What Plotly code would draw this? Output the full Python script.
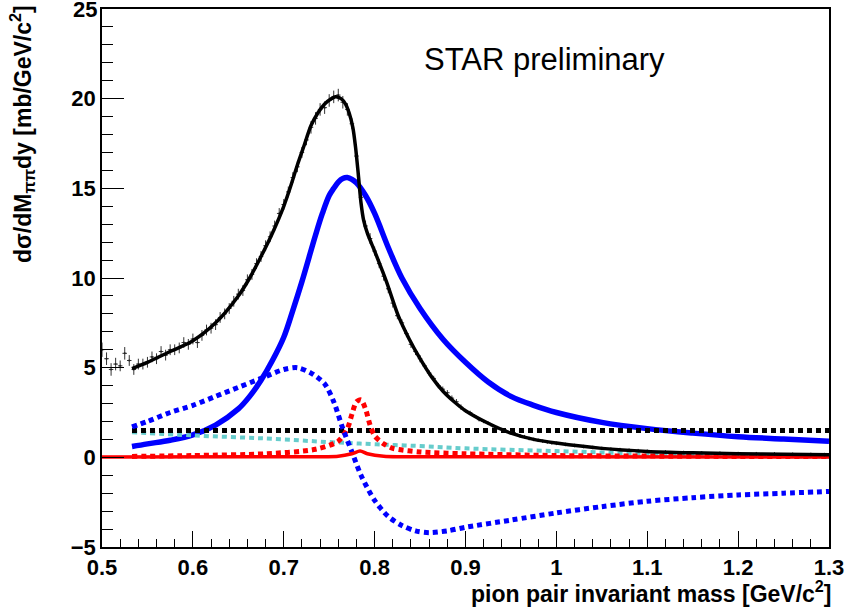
import plotly.graph_objects as go

# ---------------- data ----------------
# measured spectrum (bin centres, values, errors)
data_x = [0.500, 0.505, 0.510, 0.515, 0.520, 0.525, 0.530, 0.535, 0.540, 0.545,
          0.550, 0.555, 0.560, 0.565, 0.570, 0.575, 0.580, 0.585, 0.590, 0.595,
          0.600, 0.605, 0.610, 0.615, 0.620, 0.625, 0.630, 0.635, 0.640, 0.645,
          0.650, 0.655, 0.660, 0.665, 0.670, 0.675, 0.680, 0.685, 0.690, 0.695,
          0.700, 0.705, 0.710, 0.715, 0.720, 0.725, 0.730, 0.735, 0.740, 0.745,
          0.750, 0.755, 0.760, 0.765, 0.770, 0.775, 0.780, 0.785, 0.790, 0.795,
          0.800, 0.805, 0.810, 0.815, 0.820, 0.825, 0.830, 0.835, 0.840, 0.845,
          0.850, 0.855, 0.860, 0.865, 0.870, 0.875, 0.880, 0.885, 0.890, 0.895,
          0.900, 0.905, 0.910, 0.915, 0.920, 0.925, 0.930, 0.935, 0.940, 0.945,
          0.950, 0.955, 0.960, 0.965, 0.970, 0.975, 0.980, 0.985, 0.990, 0.995,
          1.000, 1.010, 1.020, 1.030, 1.040, 1.050, 1.060, 1.070, 1.080, 1.090,
          1.100, 1.120, 1.140, 1.160, 1.180, 1.200, 1.220, 1.240, 1.260, 1.280, 1.295]
data_y = [6.0, 5.5, 4.9, 5.2, 5.1, 5.8, 5.4, 4.9, 5.2, 5.2,
          5.3, 5.6, 5.5, 5.9, 5.7, 6.0, 6.0, 6.1, 6.4, 6.3,
          6.6, 6.4, 6.8, 7.1, 7.2, 7.4, 7.8, 8.0, 8.3, 8.7,
          9.1, 9.3, 9.9, 10.2, 10.8, 11.2, 11.8, 12.3, 12.9, 13.6,
          14.1, 14.8, 15.6, 16.2, 17.0, 17.7, 18.4, 18.9, 19.4, 19.5,
          19.9, 20.1, 20.2, 19.8, 19.4, 18.6, 16.8, 14.5, 12.9, 12.2,
          11.5, 10.8, 10.1, 9.4, 8.6, 7.9, 7.5, 6.9, 6.3, 5.9,
          5.5, 5.1, 4.7, 4.4, 4.0, 3.8, 3.6, 3.3, 3.1, 2.8,
          2.6, 2.5, 2.3, 2.1, 2.0, 1.9, 1.75, 1.65, 1.55, 1.45,
          1.35, 1.3, 1.2, 1.15, 1.05, 1.0, 0.95, 0.9, 0.85, 0.8,
          0.78, 0.72, 0.66, 0.6, 0.55, 0.5, 0.46, 0.43, 0.4, 0.37,
          0.34, 0.3, 0.27, 0.25, 0.23, 0.21, 0.2, 0.19, 0.17, 0.16, 0.15]
data_err = [0.4, 0.35, 0.35, 0.35, 0.3, 0.35, 0.3, 0.3, 0.3, 0.3,
            0.3, 0.3, 0.3, 0.3, 0.3, 0.3, 0.3, 0.3, 0.3, 0.3,
            0.3, 0.3, 0.3, 0.3, 0.3, 0.3, 0.3, 0.3, 0.3, 0.3,
            0.3, 0.3, 0.3, 0.3, 0.3, 0.3, 0.3, 0.3, 0.3, 0.3,
            0.3, 0.3, 0.3, 0.3, 0.3, 0.3, 0.35, 0.35, 0.35, 0.35,
            0.35, 0.35, 0.35, 0.35, 0.35, 0.3, 0.3, 0.3, 0.3, 0.3,
            0.25, 0.25, 0.25, 0.25, 0.25, 0.2, 0.2, 0.2, 0.2, 0.2,
            0.2, 0.15, 0.15, 0.15, 0.15, 0.15, 0.15, 0.15, 0.15, 0.15,
            0.1, 0.1, 0.1, 0.1, 0.1, 0.1, 0.1, 0.1, 0.1, 0.1,
            0.1, 0.1, 0.1, 0.1, 0.1, 0.1, 0.1, 0.1, 0.1, 0.1,
            0.1, 0.1, 0.1, 0.1, 0.1, 0.1, 0.1, 0.1, 0.1, 0.1,
            0.1, 0.1, 0.1, 0.1, 0.1, 0.1, 0.1, 0.1, 0.1, 0.1, 0.1]

# total fit
total_x = [0.533, 0.55, 0.575, 0.6, 0.625, 0.65, 0.6625, 0.675, 0.6875, 0.7, 0.7075,
           0.715, 0.7225, 0.73, 0.7375, 0.745, 0.751, 0.757, 0.763, 0.768, 0.772,
           0.776, 0.779, 0.782, 0.785, 0.788, 0.792, 0.8, 0.813, 0.826, 0.838,
           0.85, 0.8625, 0.875, 0.8875, 0.9, 0.925, 0.95, 0.975, 1.0, 1.05, 1.1,
           1.15, 1.2, 1.25, 1.3]
total_y = [4.95, 5.3, 5.9, 6.5, 7.5, 9.0, 10.0, 11.2, 12.5, 14.0, 15.1,
           16.3, 17.4, 18.5, 19.2, 19.7, 19.95, 20.1, 20.0, 19.7, 19.2,
           18.4, 17.3, 15.8, 14.2, 13.2, 12.5, 11.5, 9.8, 7.9, 6.6,
           5.5, 4.5, 3.7, 3.1, 2.6, 1.9, 1.35, 1.0, 0.8, 0.5, 0.33,
           0.25, 0.2, 0.17, 0.15]

# rho Breit-Wigner
rho_x = [0.533, 0.55, 0.575, 0.6, 0.625, 0.65, 0.6625, 0.675, 0.6875, 0.7, 0.71, 0.72,
         0.735, 0.7425, 0.75, 0.755, 0.76, 0.765, 0.77, 0.775, 0.78, 0.79, 0.8,
         0.815, 0.83, 0.85, 0.875, 0.9, 0.925, 0.95, 0.975, 1.0,
         1.05, 1.1, 1.15, 1.2, 1.25, 1.3]
rho_y = [0.6, 0.75, 0.95, 1.25, 1.8, 2.7, 3.4, 4.3, 5.4, 6.7, 8.2, 9.8,
         12.4, 13.6, 14.6, 15.0, 15.35, 15.55, 15.6, 15.5, 15.3, 14.6, 13.6,
         11.7, 10.0, 8.3, 6.6, 5.3, 4.2, 3.4, 2.9, 2.5,
         1.95, 1.6, 1.35, 1.15, 1.02, 0.9]

# rho-nonresonant interference
interf_x = [0.533, 0.55, 0.575, 0.6, 0.625, 0.65, 0.675, 0.7, 0.715, 0.73, 0.745,
            0.755, 0.765, 0.775, 0.785, 0.8, 0.815, 0.83, 0.845, 0.86, 0.88, 0.9,
            0.95, 1.0, 1.05, 1.1, 1.15, 1.2, 1.25, 1.3]
interf_y = [1.7, 2.0, 2.5, 2.9, 3.4, 3.9, 4.4, 4.9, 5.0, 4.7, 4.1,
            3.1, 1.6, 0.3, -1.0, -2.4, -3.3, -3.8, -4.1, -4.2, -4.1, -3.9,
            -3.5, -3.1, -2.75, -2.45, -2.25, -2.1, -2.0, -1.9]

# non-resonant constant
nonres_x = [0.533, 1.3]
nonres_y = [1.5, 1.5]

# second background component
bkg_x = [0.533, 0.6, 0.68, 0.75, 0.8, 0.85, 0.9, 1.0, 1.1, 1.2, 1.3]
bkg_y = [1.4, 1.22, 1.05, 0.85, 0.73, 0.63, 0.5, 0.35, 0.2, 0.1, 0.03]

# omega
omega_x = [0.533, 0.6, 0.68, 0.735, 0.76, 0.77, 0.775, 0.78, 0.785, 0.79, 0.795,
           0.8, 0.81, 0.82, 0.85, 0.9, 1.0, 1.1, 1.2, 1.3]
omega_y = [0.05, 0.1, 0.2, 0.45, 0.9, 1.6, 2.4, 3.1, 3.2, 2.7, 1.8,
           1.2, 0.75, 0.5, 0.3, 0.2, 0.1, 0.07, 0.05, 0.04]

# rho-omega interference
rhoomega_x = [0.5, 0.7, 0.76, 0.775, 0.784, 0.792, 0.81, 0.9, 1.3]
rhoomega_y = [0.02, 0.03, 0.06, 0.2, 0.35, 0.2, 0.06, 0.03, 0.02]

x_tickvals = [0.5, 0.6, 0.7, 0.8, 0.9, 1.0, 1.1, 1.2, 1.3]
x_ticktext = ["0.5", "0.6", "0.7", "0.8", "0.9", "1", "1.1", "1.2", "1.3"]
y_tickvals = [-5, 0, 5, 10, 15, 20]
y_ticktext = ["\u22125", "0", "5", "10", "15", "20"]
y_top_value = 25
y_top_label = "25"

# ---------------- figure ----------------
DOT = "5px,4px"
fig = go.Figure()

fig.add_trace(go.Scatter(x=rho_x, y=rho_y, mode="lines", line=dict(color="#0000ff", width=5.5, shape="spline", smoothing=1.0)))
fig.add_trace(go.Scatter(x=bkg_x, y=bkg_y, mode="lines", line=dict(color="#66cccc", width=4, dash=DOT, shape="spline")))
fig.add_trace(go.Scatter(x=nonres_x, y=nonres_y, mode="lines", line=dict(color="#000000", width=5, dash=DOT)))
fig.add_trace(go.Scatter(x=omega_x, y=omega_y, mode="lines", line=dict(color="#ff0000", width=5, dash=DOT, shape="spline", smoothing=0.8)))
fig.add_trace(go.Scatter(x=interf_x, y=interf_y, mode="lines", line=dict(color="#0000ff", width=5, dash=DOT, shape="spline", smoothing=0.8)))
fig.add_trace(go.Scatter(x=rhoomega_x, y=rhoomega_y, mode="lines", line=dict(color="#ff0000", width=3.5, shape="spline", smoothing=0.8)))
fig.add_trace(go.Scatter(
    x=data_x, y=data_y, mode="markers",
    marker=dict(color="#222222", size=2),
    error_y=dict(type="data", array=data_err, thickness=1, width=0, color="#333333"),
    error_x=dict(type="constant", value=0.0025, thickness=1, width=0, color="#333333"),
))
fig.add_trace(go.Scatter(x=total_x, y=total_y, mode="lines", line=dict(color="#000000", width=3.5, shape="spline", smoothing=0.8)))

FONT = "Liberation Sans, Arial, sans-serif"
TICKFONT = dict(family=FONT, size=22, color="#000000", weight="bold")
axis_common = dict(
    showgrid=False, zeroline=False, showline=True, mirror=True,
    linecolor="#000000", linewidth=1.5, ticks="inside", tickcolor="#000000",
    tickwidth=1, tickfont=TICKFONT,
)
fig.update_xaxes(range=[0.5, 1.3], tickvals=x_tickvals, ticktext=x_ticktext, ticklen=16,
                 minor=dict(dtick=0.02, tick0=0.5, ticks="inside", ticklen=8, tickcolor="#000000", tickwidth=1),
                 **axis_common)
fig.update_yaxes(range=[-5, 25], tickvals=y_tickvals, ticktext=y_ticktext, ticklen=22,
                 minor=dict(dtick=1, tick0=0, ticks="inside", ticklen=11, tickcolor="#000000", tickwidth=1),
                 **axis_common)

# top y tick label (plotly drops the label sitting on the frame edge)
fig.add_annotation(xref="paper", yref="y", x=0, y=y_top_value, xanchor="right", yanchor="middle",
                   xshift=-3, showarrow=False, text=y_top_label, font=TICKFONT)

fig.add_annotation(xref="paper", yref="paper", x=1, y=0, xanchor="right", yanchor="middle",
                   yshift=-45, xshift=4, showarrow=False,
                   text="pion pair invariant mass [GeV/c<sup>2</sup>]",
                   font=dict(family=FONT, size=23, color="#000000", weight="bold"))
fig.add_annotation(xref="paper", yref="paper", x=0, y=1, xanchor="center", yanchor="top",
                   xshift=-80, yshift=6, textangle=-90, showarrow=False,
                   text="d\u03c3/dM<sub>\u03c0\u03c0</sub>dy [mb/GeV/c<sup>2</sup>]",
                   font=dict(family=FONT, size=23, color="#000000", weight="bold"))
fig.add_annotation(xref="x", yref="y", x=0.987, y=22.2, xanchor="center", yanchor="middle",
                   showarrow=False, text="STAR preliminary",
                   font=dict(family=FONT, size=31, color="#000000"))

fig.update_layout(
    width=851, height=610, showlegend=False,
    margin=dict(l=102, r=17, t=7, b=63),
    plot_bgcolor="#ffffff", paper_bgcolor="#ffffff",
)

fig.write_html("out.html", config={"displayModeBar": False},
               post_script="document.body.style.margin='0';document.body.style.overflow='hidden';")
